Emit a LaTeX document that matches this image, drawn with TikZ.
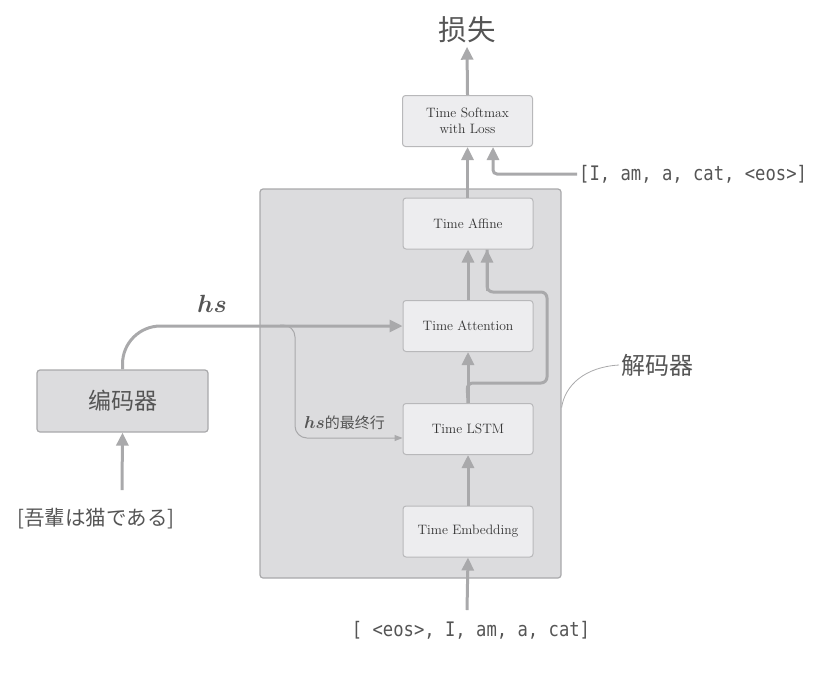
\documentclass[tikz,border=0pt]{standalone}
\usepackage{amsmath}
\usepackage{fontspec}
\newfontfamily\cjk{Noto Sans CJK SC}
\newfontfamily\cjkjp{Noto Sans CJK JP}
\newfontfamily\mono[FakeStretch=0.86]{DejaVu Sans Mono}
\usetikzlibrary{arrows.meta,calc}
\definecolor{lnc}{HTML}{A9A9AB}
\definecolor{decfill}{HTML}{DCDCDE}
\definecolor{boxfill}{HTML}{EDEDEF}
\definecolor{boxline}{HTML}{B8B8BA}
\definecolor{txt}{HTML}{555555}
\tikzset{
  layer/.style={draw=boxline, fill=boxfill, line width=1pt, rounded corners=3pt,
    minimum width=130pt, minimum height=51pt, align=center, text=black!80,
    font=\fontsize{13.6}{16.5}\selectfont},
  bigarrow/.style={draw=lnc, line width=3pt, -{Triangle[width=12pt,length=13pt]}},
  thinarrow/.style={draw=lnc, line width=1pt, -{Triangle[width=6pt,length=8pt]}},
}
\begin{document}
\begin{tikzpicture}[x=1pt,y=-1pt]
\useasboundingbox (0,0) rectangle (834,673);
% decoder frame
\node[draw=lnc, fill=decfill, line width=1.2pt, rounded corners=3pt, minimum width=301pt, minimum height=389pt, inner sep=0pt] (dec) at (410.5,383.5) {};
% layers
\node[layer] (sm) at (467.5,121) {Time Softmax\\with Loss};
\node[layer] (aff) at (468,223.5) {Time Affine};
\node[layer] (att) at (468,326) {Time Attention};
\node[layer] (lstm) at (468,429) {Time LSTM};
\node[layer] (emb) at (468,531.5) {Time Embedding};
% encoder
\node[draw=lnc, fill=decfill, line width=1.2pt, rounded corners=3pt, minimum width=171pt, minimum height=62pt, text=txt, font=\cjk\fontsize{23}{26}\selectfont] (enc) at (122.5,401) {编码器};
% texts
\node[text=txt, font=\cjk\fontsize{28.5}{30}\selectfont] (loss) at (467,30) {损失};
\node[text=txt, font=\mono\fontsize{20}{22}\selectfont, anchor=west, inner sep=2pt] (tgt) at (577,174) {[I, am, a, cat, <eos>]};
\node[text=txt, font=\mono\fontsize{20}{22}\selectfont, inner sep=2pt] (inp) at (471,630) {[ <eos>, I, am, a, cat]};
\node[text=txt, font=\cjkjp\fontsize{20.5}{24}\selectfont, inner sep=2pt] (src) at (96,519) {[吾輩は猫である]};
\node[text=txt, font=\cjk\fontsize{24}{26}\selectfont, anchor=west, inner sep=2pt] (declab) at (619,365) {解码器};
\node[text=txt, font=\fontsize{28}{30}\selectfont, inner sep=0pt] (hslab) at (212,304) {$\boldsymbol{hs}$};
\node[text=txt, anchor=west, inner sep=0pt] (lastlab) at (304,423) {\fontsize{19}{22}\selectfont$\boldsymbol{hs}$\cjk\fontsize{15}{18}\selectfont 的最终行};
% coordinates
\coordinate (br) at (280,325);
\coordinate (b1) at (295,325);
\coordinate (b2) at (295,438);
\coordinate (lin) at ($(lstm.west)+(0,9)$);
\coordinate (decedge) at ($(dec.east)+(0,24)$);
\coordinate (sm2) at ($(sm.south)+(25.5,0)$);
\coordinate (aff2) at ($(aff.south)+(19,0)$);
\coordinate (r0) at (467,383);
\coordinate (r1) at (547,383);
\coordinate (r2) at (547,292);
\coordinate (r3) at (487,292);
\coordinate (srcup) at (122,490);
\coordinate (inpup) at (467,610);
% connectors
\draw[bigarrow] (sm.north) -- (loss.south);
\draw[bigarrow] (aff.north -| sm.south) -- (sm.south);
\draw[bigarrow, rounded corners=4pt] (tgt.west) -| (sm2);
\draw[bigarrow] (att.north) -- (aff.south);
\draw[bigarrow] (lstm.north) -- (att.south);
\draw[draw=lnc, line width=3pt, rounded corners=6pt] (lstm.north) -- (r0) -- (r1) -- (r2) -- (r3) -- (r3 |- aff.south);
\draw[bigarrow] ($(r3)+(0,-1)$) -- (aff2);
\draw[bigarrow] (emb.north) -- (lstm.south);
\draw[bigarrow] (inpup) -- (emb.south);
\draw[bigarrow] (srcup) -- (enc.south);
\draw[bigarrow, rounded corners=38pt] (enc.north) |- (att.west);
\draw[thinarrow, rounded corners=12pt] (br) -- (b1) -- (b2) -- (lin);
\draw[draw=lnc, line width=0.8pt] (declab.west) .. controls (585,367) and (565,385) .. (decedge);
\end{tikzpicture}
\end{document}
